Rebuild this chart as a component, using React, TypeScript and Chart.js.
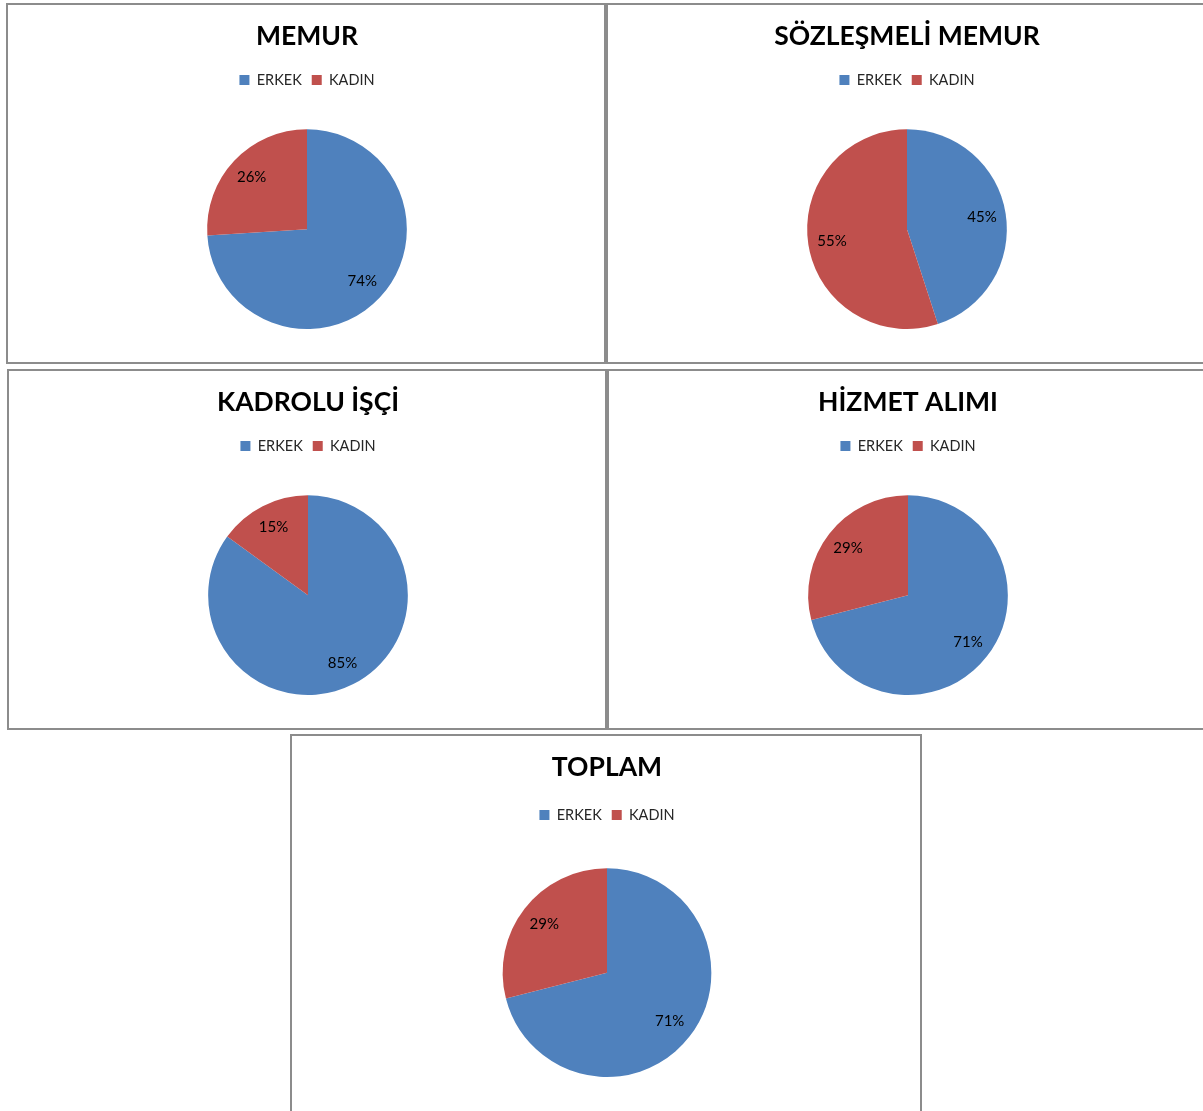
import React, { useEffect, useRef } from 'react';
import { Chart, registerables } from 'chart.js';

Chart.register(...registerables);

// ---- Data ----
const categories = ['ERKEK', 'KADIN'];
const chartTitles = ['MEMUR', 'SÖZLEŞMELİ MEMUR', 'KADROLU İŞÇİ', 'HİZMET ALIMI', 'TOPLAM'];
const memurValues = [74, 26];
const sozlesmeliValues = [45, 55];
const kadroluValues = [85, 15];
const hizmetValues = [71, 29];
const toplamValues = [71, 29];
const seriesValues = [memurValues, sozlesmeliValues, kadroluValues, hizmetValues, toplamValues];
const sliceColors = ['#4F81BD', '#C0504D'];

const FONT = 'Lato, "Open Sans", sans-serif';

// ---- Layout (positions only) ----
const panels = [
  { left: 6, top: 3, width: 600, height: 361, titleBottom: 10, gap: 32, padBottom: 33, padLeft: 2 },
  { left: 606, top: 3, width: 600, height: 361, titleBottom: 10, gap: 32, padBottom: 33, padLeft: 2 },
  { left: 7, top: 369, width: 600, height: 361, titleBottom: 10, gap: 32, padBottom: 33, padLeft: 2 },
  { left: 607, top: 369, width: 600, height: 361, titleBottom: 10, gap: 32, padBottom: 33, padLeft: 2 },
  { left: 290, top: 734, width: 632, height: 380, titleBottom: 14, gap: 36, padBottom: 35, padLeft: 2 },
];

const pctLabelPlugin = {
  id: 'pctLabels',
  afterDatasetsDraw(chart: any) {
    const ctx = chart.ctx;
    const meta = chart.getDatasetMeta(0);
    const data = chart.data.datasets[0].data as number[];
    const total = data.reduce((a, b) => a + b, 0);
    ctx.save();
    ctx.font = `15px ${FONT}`;
    ctx.fillStyle = '#000';
    ctx.textAlign = 'center';
    ctx.textBaseline = 'middle';
    meta.data.forEach((arc: any, i: number) => {
      const p = arc.getProps(['x', 'y', 'startAngle', 'endAngle', 'outerRadius'], true);
      const mid = (p.startAngle + p.endAngle) / 2;
      const r = p.outerRadius * 0.76;
      ctx.fillText(Math.round((data[i] / total) * 100) + '%', p.x + Math.cos(mid) * r, p.y + Math.sin(mid) * r);
    });
    ctx.restore();
  },
};

function makeLegendGapPlugin(gap: number) {
  return {
    id: 'legendGap',
    beforeInit(chart: any) {
      const legend = chart.legend;
      if (!legend) return;
      const origFit = legend.fit;
      legend.fit = function () {
        origFit.call(this);
        this.height += gap;
      };
    },
  };
}

function PiePanel({ idx }: { idx: number }) {
  const ref = useRef<HTMLCanvasElement>(null);
  const g = panels[idx];
  const cw = g.width - 4;
  const ch = g.height - 4;
  useEffect(() => {
    if (!ref.current) return;
    const chart = new Chart(ref.current, {
      type: 'pie',
      data: {
        labels: categories,
        datasets: [
          {
            data: seriesValues[idx],
            backgroundColor: sliceColors,
            borderWidth: 0,
          },
        ],
      },
      options: {
        responsive: false,
        animation: false,
        devicePixelRatio: 1,
        layout: { padding: { top: 0, bottom: g.padBottom, left: g.padLeft } },
        plugins: {
          title: {
            display: true,
            text: chartTitles[idx],
            color: '#000',
            font: { family: FONT, size: 26.5, weight: 'bold' },
            padding: { top: 16, bottom: g.titleBottom },
          },
          legend: {
            display: true,
            position: 'top',
            labels: {
              boxWidth: 10,
              boxHeight: 10,
              color: '#262626',
              font: { family: FONT, size: 14.5 },
              padding: 10,
            },
          },
          tooltip: { enabled: false },
        },
      },
      plugins: [makeLegendGapPlugin(g.gap), pctLabelPlugin],
    });
    return () => chart.destroy();
  }, [idx]);
  return (
    <div
      style={{
        position: 'absolute',
        left: g.left,
        top: g.top,
        width: g.width,
        height: g.height,
        boxSizing: 'border-box',
        border: '2px solid #8c8c8c',
        background: '#fff',
      }}
    >
      <canvas ref={ref} width={cw} height={ch} style={{ display: 'block', width: cw, height: ch }} />
    </div>
  );
}

export default function App() {
  return (
    <div
      style={{
        position: 'absolute',
        left: 0,
        top: 0,
        width: 1203,
        height: 1111,
        overflow: 'hidden',
        background: '#fff',
      }}
    >
      {panels.map((_, i) => (
        <PiePanel key={i} idx={i} />
      ))}
    </div>
  );
}
